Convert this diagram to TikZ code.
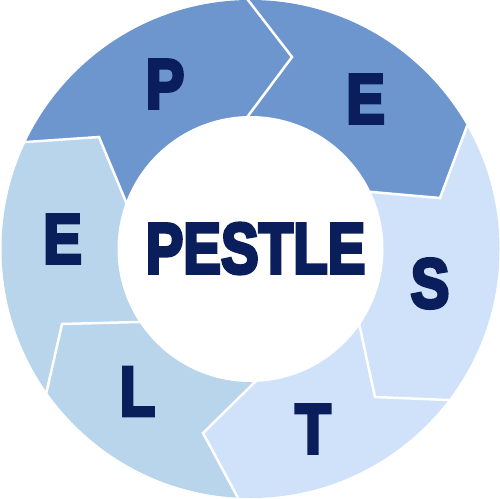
\documentclass[tikz,border=0pt]{standalone}
\usepackage{fontspec}
\newfontfamily\heavyfont{Liberation Sans Bold}[FakeBold=5]
\usetikzlibrary{calc}
\definecolor{segdark}{RGB}{109,149,206}
\definecolor{segmid}{RGB}{184,213,235}
\definecolor{seglight}{RGB}{207,226,250}
\definecolor{inkblue}{RGB}{11,30,92}
\begin{document}
\begin{tikzpicture}[x=1pt,y=-1pt,
  letter/.style={text=inkblue,font=\heavyfont\fontsize{70}{80}\selectfont,inner sep=0pt},
  titletext/.style={text=inkblue,font=\heavyfont\fontsize{71.5}{80}\selectfont,inner sep=0pt},
  gap/.style={white,line width=2.5pt,line join=miter}]
\useasboundingbox (0,0) rectangle (500,498);
\coordinate (c) at (250.5,249);
% boundary chevrons: inner point, tip, outer point
\coordinate (i1) at (248,116); \coordinate (t1) at (292,57);  \coordinate (o1) at (248,0);
\coordinate (i2) at (372,192); \coordinate (t2) at (440,198); \coordinate (o2) at (467,126);
\coordinate (i3) at (360,328); \coordinate (t3) at (375,397); \coordinate (o3) at (448,400);
\coordinate (i4) at (255,382); \coordinate (t4) at (203,433); \coordinate (o4) at (238,498);
\coordinate (i5) at (138,322); \coordinate (t5) at (62,324);  \coordinate (o5) at (47,390);
\coordinate (i6) at (126,202); \coordinate (t6) at (99,137);  \coordinate (o6) at (26,142);
\foreach \k in {1,...,6} {
  \coordinate (ie\k) at ($(t\k)!1.6!(i\k)$);
  \coordinate (oe\k) at ($(t\k)!1.6!(o\k)$);
  \coordinate (f\k) at ($(c)!2.2!(oe\k)$);
}
\begin{scope}
  \clip (c) circle[radius=249pt];
  % P
  \fill[segdark] (c) -- (ie6) -- (t6) -- (oe6) -- (f6) -- (f1) -- (oe1) -- (t1) -- (ie1) -- cycle;
  % E (top)
  \fill[segdark] (c) -- (ie1) -- (t1) -- (oe1) -- (f1) -- (f2) -- (oe2) -- (t2) -- (ie2) -- cycle;
  % S
  \fill[seglight] (c) -- (ie2) -- (t2) -- (oe2) -- (f2) -- (f3) -- (oe3) -- (t3) -- (ie3) -- cycle;
  % T
  \fill[seglight] (c) -- (ie3) -- (t3) -- (oe3) -- (f3) -- (f4) -- (oe4) -- (t4) -- (ie4) -- cycle;
  % L
  \fill[segmid] (c) -- (ie4) -- (t4) -- (oe4) -- (f4) -- (f5) -- (oe5) -- (t5) -- (ie5) -- cycle;
  % E (left)
  \fill[segmid] (c) -- (ie5) -- (t5) -- (oe5) -- (f5) -- (f6) -- (oe6) -- (t6) -- (ie6) -- cycle;
  \foreach \k in {1,...,6} {
    \draw[gap] (ie\k) -- (t\k) -- (oe\k);
  }
\end{scope}
\fill[white] (c) circle[radius=133pt];
\node[letter] (lp) at (165,84) {\scalebox{0.83}[1]{P}};
\node[letter] (le) at (365.5,99) {\scalebox{0.83}[1]{E}};
\node[letter] (ls) at (430,283.5) {\scalebox{0.83}[1]{S}};
\node[letter] (lt) at (313,429) {\scalebox{0.83}[1]{T}};
\node[letter] (ll) at (137.5,391.5) {\scalebox{0.83}[1]{L}};
\node[letter] (le2) at (62.5,239) {\scalebox{0.83}[1]{E}};
\node[titletext] (title) at (255.5,248.5) {\scalebox{0.79}[1]{PESTLE}};
\end{tikzpicture}
\end{document}
